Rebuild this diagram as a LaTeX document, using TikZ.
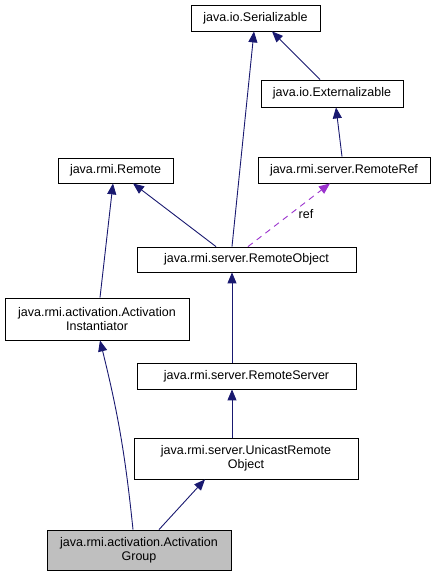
\documentclass[tikz,border=0pt]{standalone}
\usepackage{fontspec}
\setmainfont{Liberation Sans}
\usetikzlibrary{arrows.meta, calc}
\definecolor{edgeblue}{HTML}{191970}
\definecolor{refpurple}{HTML}{9A32CD}
\definecolor{curfill}{HTML}{BFBFBF}
\tikzset{
  cls/.style={draw=black, line width=0.8pt, fill=white, inner sep=0pt, align=center,
    font=\fontsize{12.5}{14}\selectfont},
  inh/.style={draw=edgeblue, line width=0.9pt, -{Triangle[length=11pt, width=9pt]}},
  useref/.style={draw=refpurple, line width=0.9pt, dash pattern=on 6pt off 5pt,
    -{Triangle[length=11pt, width=9pt]}}
}

\begin{document}
\begin{tikzpicture}[x=1pt, y=-1pt]
  \useasboundingbox (0,0) rectangle (435,576);
  % classes
  \node[cls, minimum width=129pt, minimum height=26pt] (ser)  at (255.5,18)  {java.io.Serializable};
  \node[cls, minimum width=142pt, minimum height=27pt] (ext)  at (332,93.5)  {java.io.Externalizable};
  \node[cls, minimum width=172pt, minimum height=26pt] (rref) at (344,170)   {java.rmi.server.RemoteRef};
  \node[cls, minimum width=115pt, minimum height=25pt] (rmt)  at (115.5,170.5) {java.rmi.Remote};
  \node[cls, minimum width=219pt, minimum height=25pt] (robj) at (246.5,259.5) {java.rmi.server.RemoteObject};
  \node[cls, minimum width=184pt, minimum height=42pt] (inst) at (97,319)    {java.rmi.activation.Activation\\Instantiator};
  \node[cls, minimum width=219pt, minimum height=26pt] (rsrv) at (246.5,376) {java.rmi.server.RemoteServer};
  \node[cls, minimum width=224pt, minimum height=41pt] (uro)  at (246,458.5) {java.rmi.server.UnicastRemote\\Object};
  \node[cls, fill=curfill, minimum width=184pt, minimum height=40pt] (grp) at (139,550) {java.rmi.activation.Activation\\Group};

  % inheritance
  \draw[inh] ([xshift=-12pt]ext.north) -- ([xshift=16.5pt]ser.south);
  \draw[inh] ([xshift=-14.5pt]robj.north) -- ([xshift=-1.5pt]ser.south);
  \draw[inh] ([xshift=-2pt]rref.north) -- ([xshift=4pt]ext.south);
  \draw[inh] ([xshift=-30.5pt]robj.north) -- ([xshift=17.5pt]rmt.south);
  \draw[inh] ([xshift=3pt]inst.north) -- ([xshift=-2.5pt]rmt.south);
  \draw[inh] ([xshift=-14.5pt]rsrv.north) -- ([xshift=-14.5pt]robj.south);
  \draw[inh] ([xshift=-14pt]uro.north) -- ([xshift=-14.5pt]rsrv.south);
  \draw[inh] ([xshift=20pt]grp.north) -- ([xshift=-41pt]uro.south);
  \draw[inh] ([xshift=-6pt]grp.north) to[bend right=4] ([xshift=3pt]inst.south);

  % usage
  \draw[useref] ([xshift=1.5pt]robj.north) -- ([xshift=-14pt]rref.south);
  \node[font=\fontsize{12.5}{14}\selectfont] (reflbl) at (306,214) {ref};
\end{tikzpicture}
\end{document}
